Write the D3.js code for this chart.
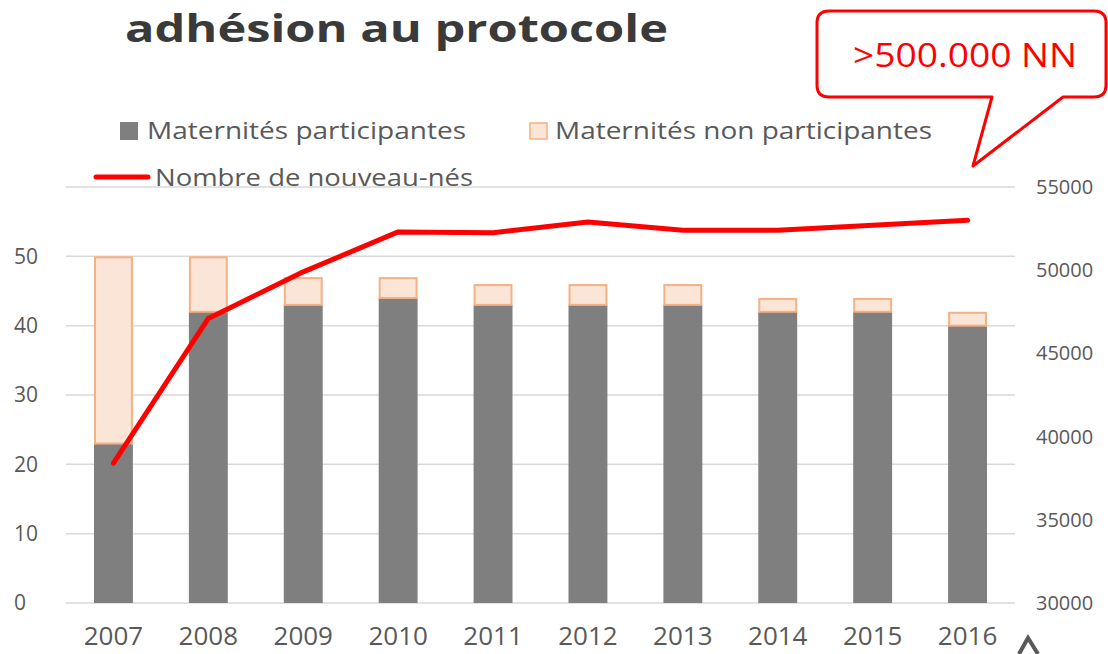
<!DOCTYPE html>
<html>
<head>
<meta charset="utf-8">
<script src="https://cdn.jsdelivr.net/npm/d3@7"></script>
<style>
  body { margin: 0; background: #fff; }
  text { font-family: "Open Sans", "Noto Sans", sans-serif; }
</style>
</head>
<body>
<div id="chart"></div>
<script>
// Data
const years = ["2007", "2008", "2009", "2010", "2011", "2012", "2013", "2014", "2015", "2016"];
const participantes = [23, 42, 43, 44, 43, 43, 43, 42, 42, 40];
const nonParticipantes = [27, 8, 4, 3, 3, 3, 3, 2, 2, 2];
const nouveauNes = [38400, 47100, 49900, 52300, 52250, 52900, 52400, 52400, 52700, 53000];
const leftTicks = [0, 10, 20, 30, 40, 50];
const rightTicks = [30000, 35000, 40000, 45000, 50000, 55000];

const width = 1108, height = 654;
const margin = { top: 187, right: 93, bottom: 51, left: 66 };
const innerW = width - margin.left - margin.right;
const innerH = height - margin.top - margin.bottom;

const svg = d3.select("#chart").append("svg")
  .attr("width", width)
  .attr("height", height);

// Title
svg.append("text")
  .attr("x", 125)
  .attr("y", 42)
  .attr("font-size", 38)
  .attr("font-weight", "bold")
  .attr("fill", "#3a3a3a")
  .attr("textLength", 543)
  .attr("lengthAdjust", "spacingAndGlyphs")
  .text("adhésion au protocole");

const g = svg.append("g")
  .attr("transform", "translate(" + margin.left + "," + margin.top + ")");

// Scales
const x = d3.scaleBand()
  .domain(years)
  .range([0, innerW])
  .paddingInner(0.59)
  .paddingOuter(0.295);

const y = d3.scaleLinear().domain([0, 60]).range([innerH, 0]);
const y2 = d3.scaleLinear().domain([30000, 55000]).range([innerH, 0]);

// Gridlines
g.append("g")
  .selectAll("line")
  .data(d3.range(0, 61, 10))
  .join("line")
  .attr("x1", 0)
  .attr("x2", innerW)
  .attr("y1", d => y(d))
  .attr("y2", d => y(d))
  .attr("stroke", "#d9d9d9")
  .attr("stroke-width", 1.5);

// Left axis
const yAxis = d3.axisLeft(y).tickValues(leftTicks).tickSize(0);
g.append("g")
  .call(yAxis)
  .call(ax => ax.select(".domain").remove())
  .selectAll("text")
  .attr("font-size", 21)
  .attr("fill", "#595959")
  .attr("text-anchor", "start")
  .attr("x", -52);

// Right axis
const y2Axis = d3.axisRight(y2).tickValues(rightTicks).tickSize(0).tickPadding(21)
  .tickFormat(d3.format("d"));
g.append("g")
  .attr("transform", "translate(" + innerW + ",0)")
  .call(y2Axis)
  .call(ax => ax.select(".domain").remove())
  .selectAll("text")
  .attr("font-size", 20)
  .attr("fill", "#595959");

// Bottom axis
const xAxis = d3.axisBottom(x).tickSize(0).tickPadding(24);
g.append("g")
  .attr("transform", "translate(0," + innerH + ")")
  .call(xAxis)
  .call(ax => ax.select(".domain").remove())
  .selectAll("text")
  .attr("font-size", 26)
  .attr("fill", "#595959");

// Stacked bars
const stackData = years.map((yr, i) => ({ year: yr, p: participantes[i], n: nonParticipantes[i] }));

g.append("g")
  .selectAll("rect")
  .data(stackData)
  .join("rect")
  .attr("x", d => x(d.year))
  .attr("width", x.bandwidth())
  .attr("y", d => y(d.p))
  .attr("height", d => y(0) - y(d.p))
  .attr("fill", "#7f7f7f");

g.append("g")
  .selectAll("rect")
  .data(stackData)
  .join("rect")
  .attr("x", d => x(d.year) + 1)
  .attr("width", x.bandwidth() - 2)
  .attr("y", d => y(d.p + d.n) + 1)
  .attr("height", d => y(d.p) - y(d.p + d.n) - 1)
  .attr("fill", "#fbe5d6")
  .attr("stroke", "#f4b183")
  .attr("stroke-width", 2);

// Line
const line = d3.line()
  .x((d, i) => x(years[i]) + x.bandwidth() / 2)
  .y(d => y2(d));

g.append("path")
  .datum(nouveauNes)
  .attr("d", line)
  .attr("fill", "none")
  .attr("stroke", "#ff0000")
  .attr("stroke-width", 5)
  .attr("stroke-linecap", "round")
  .attr("stroke-linejoin", "round");

// Legend
const legend = svg.append("g").attr("font-size", 24).attr("fill", "#595959");

legend.append("rect")
  .attr("x", 120).attr("y", 122).attr("width", 18).attr("height", 18)
  .attr("fill", "#7f7f7f");
legend.append("text")
  .attr("x", 147).attr("y", 139)
  .attr("fill", "#595959")
  .attr("textLength", 319).attr("lengthAdjust", "spacingAndGlyphs")
  .text("Maternités participantes");

legend.append("rect")
  .attr("x", 530).attr("y", 123).attr("width", 17).attr("height", 16)
  .attr("fill", "#fbe5d6").attr("stroke", "#f4b183").attr("stroke-width", 1.5);
legend.append("text")
  .attr("x", 555).attr("y", 139)
  .attr("fill", "#595959")
  .attr("textLength", 377).attr("lengthAdjust", "spacingAndGlyphs")
  .text("Maternités non participantes");

legend.append("line")
  .attr("x1", 96).attr("x2", 148).attr("y1", 177).attr("y2", 177)
  .attr("stroke", "#ff0000").attr("stroke-width", 5).attr("stroke-linecap", "round");
legend.append("text")
  .attr("x", 155).attr("y", 186)
  .attr("fill", "#595959")
  .attr("textLength", 318).attr("lengthAdjust", "spacingAndGlyphs")
  .text("Nombre de nouveau-nés");

// Callout bubble
const callout = svg.append("g");
callout.append("path")
  .attr("d", "M829,11 H1094 Q1106,11 1106,23 V85 Q1106,97 1094,97 H1063 L973,166 L992,97 H829 Q817,97 817,85 V23 Q817,11 829,11 Z")
  .attr("fill", "#fff")
  .attr("stroke", "#ff0000")
  .attr("stroke-width", 3)
  .attr("stroke-linejoin", "round");
callout.append("text")
  .attr("x", 965).attr("y", 67)
  .attr("text-anchor", "middle")
  .attr("font-size", 33)
  .attr("fill", "#ff0000")
  .attr("textLength", 224).attr("lengthAdjust", "spacingAndGlyphs")
  .text(">500.000 NN");

// Partial shape at bottom right
svg.append("path")
  .attr("d", "M1019,654 L1028,638 L1038,654")
  .attr("fill", "none")
  .attr("stroke", "#595959")
  .attr("stroke-width", 4);
</script>
</body>
</html>
